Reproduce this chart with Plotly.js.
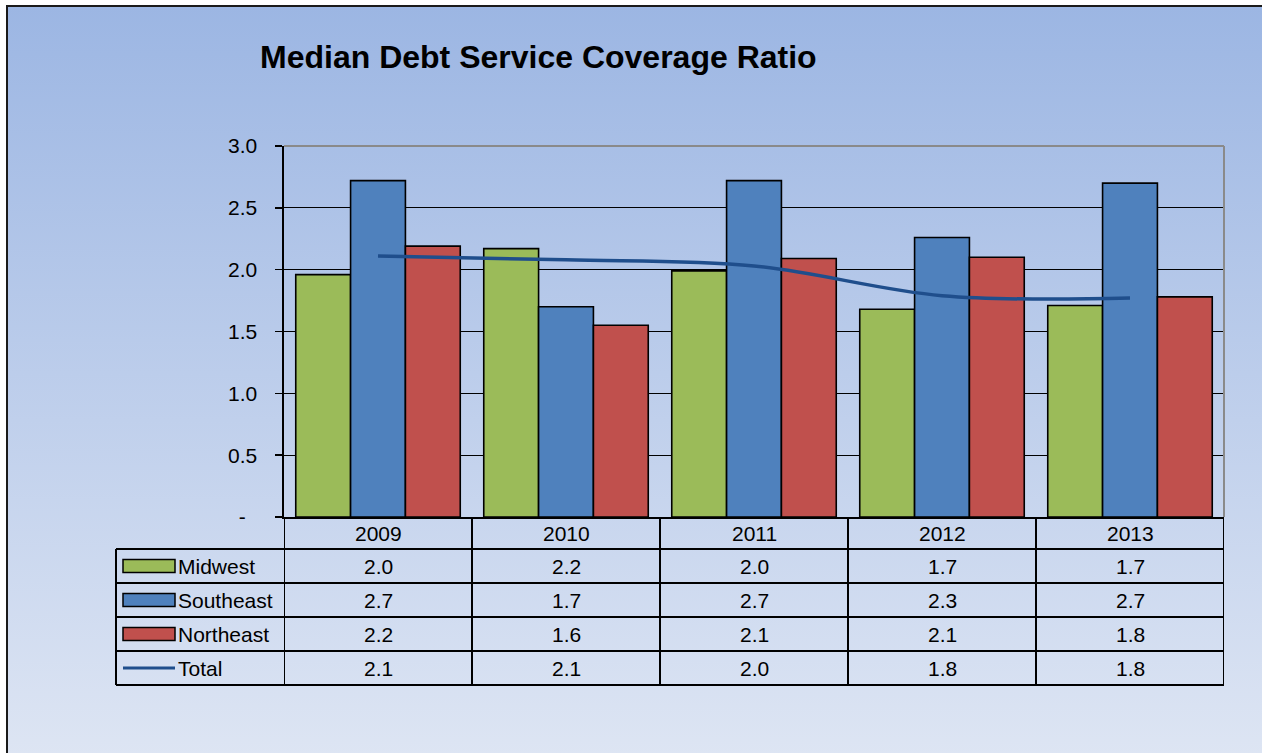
<!DOCTYPE html>
<html><head><meta charset="utf-8">
<script src="https://cdn.plot.ly/plotly-3.0.1.min.js"></script>
<style>
html,body{margin:0;padding:0;width:100%;height:100%;overflow:hidden;background:#fff;}
#bg{position:absolute;left:6px;top:5px;right:-40px;bottom:-40px;box-sizing:border-box;border-style:solid;border-color:#1a1a1a;border-width:2px 0 0 2px;background:linear-gradient(to bottom,#9cb6e3 0px,#e0e7f4 780px);}
#chart{position:absolute;left:0;top:0;width:1262px;height:753px;}
</style></head><body>
<div id="bg"></div><div id="chart"></div>
<script>
const years = ['2009','2010','2011','2012','2013'];
const midwest = [1.96, 2.17, 1.99, 1.68, 1.71];
const southeast = [2.72, 1.70, 2.72, 2.26, 2.70];
const northeast = [2.19, 1.55, 2.09, 2.10, 1.78];
const total = [2.11, 2.08, 2.03, 1.79, 1.77];
const seriesNames = ['Midwest','Southeast','Northeast','Total'];
const yTickVals = [0,0.5,1,1.5,2,2.5,3];
const yTickText = ['-\u00a0\u00a0','0.5','1.0','1.5','2.0','2.5','3.0'];

const colors = ['#9BBB59','#4F81BD','#C0504D','#1F4E8C'];
const FONT = 'Liberation Sans, Arial, sans-serif';
const W=1262,H=753,L=284,R=1224,T=146,B=517;
const px = p => (p-L)/(R-L);
const py = p => (B-p)/(B-T);
const rowTops = [549,583,617,651];
const rowH = 34;
const tableLeft = 116;
const TXT = 21;

const barSeries = [midwest, southeast, northeast];
const traces = barSeries.map((vals,i)=>({
  type:'bar', x:years, y:vals, name:seriesNames[i],
  marker:{color:colors[i], line:{color:'#000', width:1.6}},
  hoverinfo:'y'
}));
traces.push({type:'scatter', mode:'lines', x:years, y:total, name:'Total',
  line:{color:colors[3], width:3.5, shape:'spline', smoothing:1}});

const shapes = [];
const annotations = [];
const blk = {color:'#000', width:2};
shapes.push({type:'line', xref:'paper', yref:'paper', x0:0, x1:1, y0:1, y1:1, line:{color:'#8a8a8a', width:2}, layer:'above'});
shapes.push({type:'line', xref:'paper', yref:'paper', x0:1, x1:1, y0:0, y1:1, line:{color:'#8a8a8a', width:2}, layer:'above'});
rowTops.concat([rowTops[3]+rowH]).forEach(p=>{
  shapes.push({type:'line', xref:'paper', yref:'paper', x0:px(tableLeft), x1:1, y0:py(p), y1:py(p), line:blk});
});
for(let i=0;i<=years.length;i++){
  shapes.push({type:'line', xref:'x', yref:'paper', x0:i-0.5, x1:i-0.5, y0:0, y1:py(rowTops[3]+rowH), line:blk});
}
shapes.push({type:'line', xref:'paper', yref:'paper', x0:px(tableLeft), x1:px(tableLeft), y0:py(rowTops[0]), y1:py(rowTops[3]+rowH), line:blk});
years.forEach((yr,i)=>{
  annotations.push({xref:'x', yref:'paper', x:i, y:py((B+rowTops[0])/2), text:yr, showarrow:false, font:{family:FONT,size:TXT,color:'#000'}, xanchor:'center', yanchor:'middle'});
});
const allSeries = [midwest, southeast, northeast, total];
allSeries.forEach((vals,s)=>{
  const cy = rowTops[s]+rowH/2;
  vals.forEach((v,i)=>{
    annotations.push({xref:'x', yref:'paper', x:i, y:py(cy), text:v.toFixed(1), showarrow:false, font:{family:FONT,size:TXT,color:'#000'}, xanchor:'center', yanchor:'middle'});
  });
  annotations.push({xref:'paper', yref:'paper', x:px(176), y:py(cy), text:seriesNames[s], showarrow:false, font:{family:FONT,size:TXT,color:'#000'}, xanchor:'left', yanchor:'middle'});
  if(s<3){
    shapes.push({type:'rect', xref:'paper', yref:'paper', x0:px(123), x1:px(175), y0:py(cy-6.5), y1:py(cy+6.5), fillcolor:colors[s], line:{color:'#000', width:1.5}});
  } else {
    shapes.push({type:'line', xref:'paper', yref:'paper', x0:px(123), x1:px(175), y0:py(cy), y1:py(cy), line:{color:colors[3], width:3}});
  }
});
annotations.push({xref:'paper', yref:'paper', x:px(258), y:py(57), text:'<b>Median Debt Service Coverage Ratio</b>', showarrow:false, font:{family:FONT,size:32,color:'#000'}, xanchor:'left', yanchor:'middle'});

const layout = {
  width:W, height:H,
  margin:{l:L, r:W-R, t:T, b:H-B, pad:0},
  paper_bgcolor:'rgba(0,0,0,0)', plot_bgcolor:'rgba(0,0,0,0)',
  showlegend:false, barmode:'group', bargap:0.125, bargroupgap:0,
  font:{family:FONT, color:'#000'},
  xaxis:{type:'category', range:[-0.5,4.5], showticklabels:false, ticks:'', showgrid:false, zeroline:false,
    showline:true, linecolor:'#000', linewidth:2, fixedrange:true},
  yaxis:{range:[0,3], tickvals:yTickVals, ticktext:yTickText, ticks:'outside', ticklen:7, tickwidth:1.5, tickcolor:'#000',
    showline:true, linecolor:'#000', linewidth:2.5, showgrid:true, gridcolor:'#000', gridwidth:1.2, zeroline:false,
    tickfont:{family:FONT, size:TXT, color:'#000'}, ticklabelstandoff:13, fixedrange:true},
  shapes:shapes, annotations:annotations
};
Plotly.newPlot('chart', traces, layout, {displayModeBar:false, staticPlot:true});
</script></body></html>
